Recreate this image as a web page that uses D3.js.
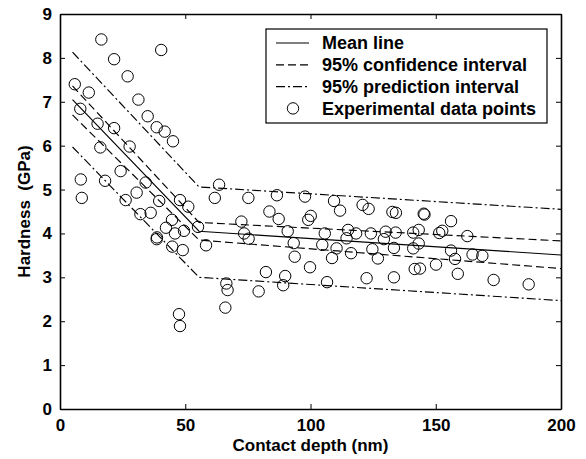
<!DOCTYPE html>
<meta charset="utf-8">
<script src="https://d3js.org/d3.v7.min.js"></script>
<style>
  body { margin: 0; background: #fff; }
  text { font-family: "Liberation Sans", Arial, sans-serif; font-weight: bold; }
</style>
<div id="chart"></div>
<script>

  // experimental data points (contact depth nm, hardness GPa)
  var depth = [16.5, 40.4, 21.6, 27.0, 5.9, 11.5, 31.3, 8.1, 35.0, 38.6, 41.8, 45.1,
    15.0, 21.6, 16.1, 27.8, 8.3, 8.7, 18.0, 24.2, 30.6, 26.2, 34.2, 39.6, 47.9, 51.2,
    32.1, 36.2, 44.7, 42.3, 45.9, 49.5, 38.7, 38.6, 44.8, 49.0, 47.5, 47.9,
    63.5, 61.8, 75.2, 86.6, 97.8, 109.4, 111.8, 120.8, 123.2, 83.6, 87.3, 100.1, 99.1,
    55.1, 72.4, 73.5, 75.3, 90.9, 93.3, 105.7, 104.7, 110.4, 115.0, 118.2, 114.4, 116.2,
    124.1, 124.7, 126.9, 58.3, 93.7, 108.6, 99.8, 82.2, 89.9, 89.1, 106.6, 122.4,
    66.4, 66.9, 79.3, 66.0,
    132.7, 134.1, 145.2, 145.5, 156.1, 130.0, 134.0, 141.0, 143.2, 151.4, 152.6, 162.6,
    129.3, 133.3, 141.0, 143.2, 156.1, 157.7, 164.7, 168.6, 141.6, 143.7, 150.1, 133.3,
    158.8, 173.1, 187.1];
  var hardness = [8.42, 8.18, 7.97, 7.58, 7.40, 7.21, 7.05, 6.84, 6.67, 6.42, 6.32, 6.10,
    6.50, 6.40, 5.96, 5.98, 5.23, 4.81, 5.20, 5.42, 4.93, 4.76, 5.16, 4.74, 4.76, 4.61,
    4.44, 4.47, 4.31, 4.13, 4.00, 4.06, 3.91, 3.87, 3.70, 3.62, 2.16, 1.89,
    5.11, 4.81, 4.81, 4.87, 4.84, 4.74, 4.52, 4.65, 4.56, 4.50, 4.33, 4.40, 4.31,
    4.15, 4.27, 4.00, 3.88, 4.05, 3.78, 4.00, 3.74, 3.66, 4.08, 4.00, 3.89, 3.55,
    4.00, 3.64, 3.43, 3.73, 3.47, 3.44, 3.23, 3.12, 3.03, 2.82, 2.89, 2.98,
    2.86, 2.71, 2.68, 2.31,
    4.49, 4.47, 4.45, 4.43, 4.28, 4.04, 4.02, 4.02, 4.08, 4.01, 4.06, 3.94,
    3.87, 3.67, 3.66, 3.77, 3.61, 3.42, 3.52, 3.49, 3.19, 3.20, 3.29, 3.00,
    3.08, 2.94, 2.84];

  // bilinear fit: knots in depth, and the curves at those knots
  var knotDepth = [5, 55.5, 200];
  var meanLine = [7.05, 4.05, 3.51];
  var confUpper = [7.36, 4.25, 3.83];
  var confLower = [6.70, 3.85, 3.20];
  var predUpper = [8.13, 5.06, 4.55];
  var predLower = [5.97, 3.00, 2.47];

  var xTicks = [0, 50, 100, 150, 200];
  var yTicks = [0, 1, 2, 3, 4, 5, 6, 7, 8, 9];
  var legendLabels = ["Mean line", "95% confidence interval", "95% prediction interval", "Experimental data points"];

  var margin = {top: 14, right: 25, bottom: 50, left: 60},
      width = 586 - margin.left - margin.right,
      height = 459 - margin.top - margin.bottom;

  var svg = d3.select("#chart")
    .append("svg")
      .attr("width", 586)
      .attr("height", 459)
    .append("g")
      .attr("transform", "translate(" + margin.left + "," + margin.top + ")");

  var x = d3.scaleLinear().domain([0, 200]).range([0, width]);
  var y = d3.scaleLinear().domain([0, 9]).range([height, 0]);

  // axes, ticks pointing inward, box on all sides
  var tk = 5;
  svg.append("g")
      .attr("transform", "translate(0," + height + ")")
      .call(d3.axisBottom(x).tickValues(xTicks).tickSizeInner(-tk).tickSizeOuter(0).tickPadding(10))
      .call(function(g) { g.selectAll("text").style("font-size", "17px").attr("fill", "#000"); });
  svg.append("g")
      .call(d3.axisLeft(y).tickValues(yTicks).tickSizeInner(-tk).tickSizeOuter(0).tickPadding(8))
      .call(function(g) { g.selectAll("text").style("font-size", "17px").attr("fill", "#000"); });
  svg.append("g")
      .call(d3.axisTop(x).tickValues(xTicks).tickSizeInner(-tk).tickSizeOuter(0).tickFormat(""));
  svg.append("g")
      .attr("transform", "translate(" + width + ",0)")
      .call(d3.axisRight(y).tickValues(yTicks).tickSizeInner(-tk).tickSizeOuter(0).tickFormat(""));
  svg.selectAll(".domain").attr("stroke", "#000").attr("stroke-width", 1.6);
  svg.selectAll(".tick line").attr("stroke", "#000").attr("stroke-width", 1);

  // axis labels
  svg.append("text")
      .attr("text-anchor", "middle")
      .attr("x", width / 2)
      .attr("y", height + 42)
      .style("font-size", "17px")
      .text("Contact depth (nm)");
  svg.append("text")
      .attr("text-anchor", "middle")
      .attr("transform", "rotate(-90)")
      .attr("x", -height / 2)
      .attr("y", -30)
      .style("font-size", "17px")
      .style("white-space", "pre")
      .text("Hardness  (GPa)");

  // fitted lines
  var line = d3.line()
      .x(function(d) { return x(d[0]); })
      .y(function(d) { return y(d[1]); });
  var curves = [
    {vals: meanLine, dash: null},
    {vals: confUpper, dash: "8,4"},
    {vals: confLower, dash: "8,4"},
    {vals: predUpper, dash: "9,3,2,3"},
    {vals: predLower, dash: "9,3,2,3"}
  ];
  curves.forEach(function(c) {
    svg.append("path")
      .datum(d3.zip(knotDepth, c.vals))
      .attr("d", line)
      .attr("fill", "none")
      .attr("stroke", "#000")
      .attr("stroke-width", 1.15)
      .attr("stroke-dasharray", c.dash);
  });

  // data points
  svg.append("g")
    .selectAll("circle")
    .data(d3.zip(depth, hardness))
    .enter()
    .append("circle")
      .attr("cx", function(d) { return x(d[0]); })
      .attr("cy", function(d) { return y(d[1]); })
      .attr("r", 5.7)
      .attr("fill", "none")
      .attr("stroke", "#000")
      .attr("stroke-width", 1);

  // legend
  var lg = svg.append("g").attr("transform", "translate(206,15)");
  lg.append("rect")
      .attr("x", 0).attr("y", 0)
      .attr("width", 281).attr("height", 94)
      .attr("fill", "#fff")
      .attr("stroke", "#000")
      .attr("stroke-width", 1.2);
  var dashes = [null, "8,4", "9,3,2,3"];
  legendLabels.forEach(function(label, i) {
    var ly = 14 + i * 21.8;
    if (i < 3) {
      lg.append("line")
        .attr("x1", 10).attr("x2", 43)
        .attr("y1", ly).attr("y2", ly)
        .attr("stroke", "#000")
        .attr("stroke-width", 1.15)
        .attr("stroke-dasharray", dashes[i]);
    } else {
      lg.append("circle")
        .attr("cx", 27).attr("cy", ly)
        .attr("r", 5.7)
        .attr("fill", "none")
        .attr("stroke", "#000");
    }
    lg.append("text")
      .attr("x", 56)
      .attr("y", ly)
      .attr("dy", "0.36em")
      .style("font-size", "18px")
      .text(label);
  });

</script>
